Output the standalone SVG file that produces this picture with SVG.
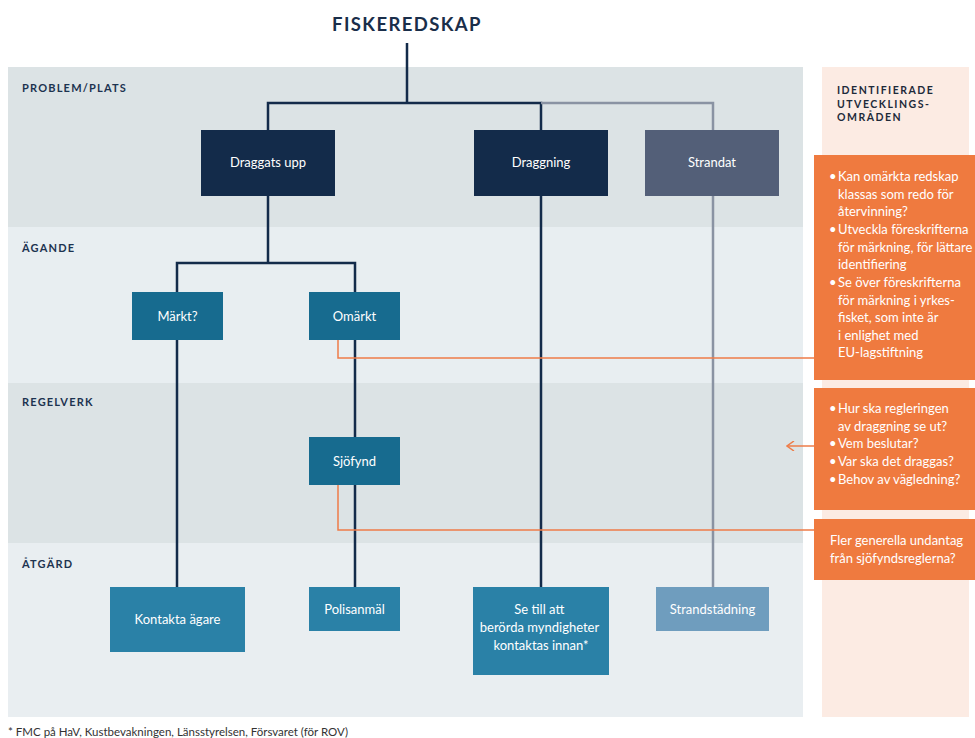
<svg xmlns="http://www.w3.org/2000/svg" width="975" height="738" viewBox="0 0 975 738">
  <style>
    .band-label { font-family: "Lato", "Liberation Sans", sans-serif; font-weight: 700; font-size: 11px; letter-spacing: 1.2px; fill: #1d3350; }
    .node-text { font-family: "Lato", "Liberation Sans", sans-serif; font-size: 13px; fill: #ffffff; text-anchor: middle; }
    .note-text { font-family: "Lato", "Liberation Sans", sans-serif; font-size: 13px; fill: #ffffff; }
    .dark { fill: #132b4a; }
    .mid { fill: #176b8f; }
    .light { fill: #2a81a7; }
    .conn { fill: none; stroke: #132b4a; stroke-width: 2.5; }
    .conn-grey { fill: none; stroke: #8a93a3; stroke-width: 2.5; }
    .conn-orange { fill: none; stroke: #ee7c48; stroke-width: 1.5; }
    .note { fill: #ef7a3f; }
  </style>
  <defs>
    <marker id="chev" viewBox="0 0 10 10" refX="9" refY="5" markerWidth="10" markerHeight="10" orient="auto" markerUnits="userSpaceOnUse">
      <path d="M2,0 L9,5 L2,10" fill="none" stroke="#ee7c48" stroke-width="1.5"/>
    </marker>
  </defs>

  <rect width="975" height="738" fill="#ffffff"/>

  <!-- background bands -->
  <g id="bands">
    <rect x="8" y="67" width="795" height="160" fill="#dce3e5"/>
    <rect x="8" y="227" width="795" height="156" fill="#e8eef1"/>
    <rect x="8" y="383" width="795" height="160" fill="#dce3e5"/>
    <rect x="8" y="543" width="795" height="174" fill="#e9eef1"/>
    <text class="band-label" x="22" y="92">PROBLEM/PLATS</text>
    <text class="band-label" x="22" y="252">ÄGANDE</text>
    <text class="band-label" x="22" y="406">REGELVERK</text>
    <text class="band-label" x="22" y="568">ÅTGÄRD</text>
  </g>

  <!-- side column -->
  <g id="side-panel">
    <rect x="822" y="67" width="147" height="650" fill="#fcebe3"/>
    <text font-family="Lato, 'Liberation Sans', sans-serif" font-weight="700" font-size="10.5" letter-spacing="1.5" fill="#1e2a3a">
      <tspan x="837" y="94">IDENTIFIERADE</tspan>
      <tspan x="837" y="107.5">UTVECKLINGS-</tspan>
      <tspan x="837" y="121">OMRÅDEN</tspan>
    </text>
  </g>

  <!-- title -->
  <g id="title">
    <text x="407" y="31" text-anchor="middle" font-family="Lato, 'Liberation Sans', sans-serif" font-weight="700" font-size="18.5" letter-spacing="1.4" fill="#1a2e4a">FISKEREDSKAP</text>
  </g>

  <!-- connectors -->
  <g id="connectors">
    <path class="conn" d="M407,43 V103 M268,130 V103 H541 V130"/>
    <path class="conn-grey" d="M541,103 H713 V130"/>
    <path class="conn" d="M268,196 V263 M177,292 V263 H355 V292"/>
    <path class="conn" d="M177,340 V587"/>
    <path class="conn" d="M355,340 V437 M355,485 V587"/>
    <path class="conn" d="M541,196 V587"/>
    <path class="conn-grey" d="M713,196 V587"/>
    <path class="conn-orange" d="M338,340 V358 H814"/>
    <path class="conn-orange" d="M338,485 V530 H814"/>
    <path class="conn-orange" d="M814,446 H787" marker-end="url(#chev)"/>
  </g>

  <!-- nodes -->
  <g id="draggats-upp">
    <rect class="dark" x="201" y="130" width="134" height="66"/>
    <text class="node-text" x="268" y="167">Draggats upp</text>
  </g>
  <g id="draggning">
    <rect class="dark" x="474" y="130" width="134" height="66"/>
    <text class="node-text" x="541" y="167">Draggning</text>
  </g>
  <g id="strandat">
    <rect x="645" y="130" width="134" height="66" fill="#535f78"/>
    <text class="node-text" x="712" y="167">Strandat</text>
  </g>
  <g id="markt">
    <rect class="mid" x="132" y="292" width="91" height="48"/>
    <text class="node-text" x="177.5" y="321">Märkt?</text>
  </g>
  <g id="omarkt">
    <rect class="mid" x="309" y="292" width="91" height="48"/>
    <text class="node-text" x="354.5" y="321">Omärkt</text>
  </g>
  <g id="sjofynd">
    <rect class="mid" x="309" y="437" width="91" height="48"/>
    <text class="node-text" x="354.5" y="466">Sjöfynd</text>
  </g>
  <g id="kontakta-agare">
    <rect class="light" x="110" y="587" width="135" height="65"/>
    <text class="node-text" x="177.5" y="624">Kontakta ägare</text>
  </g>
  <g id="polisanmal">
    <rect class="light" x="309" y="587" width="91" height="44"/>
    <text class="node-text" x="354.5" y="614">Polisanmäl</text>
  </g>
  <g id="se-till-att">
    <rect class="light" x="473" y="587" width="136" height="88"/>
    <text class="node-text">
      <tspan x="541" y="614">Se till att</tspan>
      <tspan x="541" y="632">berörda myndigheter</tspan>
      <tspan x="541" y="650">kontaktas innan*</tspan>
    </text>
  </g>
  <g id="strandstadning">
    <rect x="656" y="587" width="113" height="44" fill="#6f9dbe"/>
    <text class="node-text" x="712.5" y="614">Strandstädning</text>
  </g>

  <!-- development notes -->
  <g id="note-markning">
    <rect class="note" x="814" y="155" width="161" height="225"/>
    <text class="note-text">
      <tspan x="829" y="181">•</tspan><tspan x="838" y="181">Kan omärkta redskap</tspan>
      <tspan x="838" y="199">klassas som redo för</tspan>
      <tspan x="838" y="216">återvinning?</tspan>
      <tspan x="829" y="234">•</tspan><tspan x="838" y="234">Utveckla föreskrifterna</tspan>
      <tspan x="838" y="252">för märkning, för lättare</tspan>
      <tspan x="838" y="269">identifiering</tspan>
      <tspan x="829" y="287">•</tspan><tspan x="838" y="287">Se över föreskrifterna</tspan>
      <tspan x="838" y="305">för märkning i yrkes-</tspan>
      <tspan x="838" y="322">fisket, som inte är</tspan>
      <tspan x="838" y="340">i enlighet med</tspan>
      <tspan x="838" y="357">EU-lagstiftning</tspan>
    </text>
  </g>
  <g id="note-draggning">
    <rect class="note" x="814" y="388" width="161" height="122"/>
    <text class="note-text">
      <tspan x="829" y="413">•</tspan><tspan x="838" y="413">Hur ska regleringen</tspan>
      <tspan x="838" y="431">av draggning se ut?</tspan>
      <tspan x="829" y="448">•</tspan><tspan x="838" y="448">Vem beslutar?</tspan>
      <tspan x="829" y="466">•</tspan><tspan x="838" y="466">Var ska det draggas?</tspan>
      <tspan x="829" y="484">•</tspan><tspan x="838" y="484">Behov av vägledning?</tspan>
    </text>
  </g>
  <g id="note-sjofynd">
    <rect class="note" x="814" y="519" width="161" height="61"/>
    <text class="note-text">
      <tspan x="830" y="545">Fler generella undantag</tspan>
      <tspan x="830" y="563">från sjöfyndsreglerna?</tspan>
    </text>
  </g>

  <!-- footnote -->
  <text x="8" y="736" font-family="Lato, 'Liberation Sans', sans-serif" font-size="11.5" fill="#333333">* FMC på HaV, Kustbevakningen, Länsstyrelsen, Försvaret (för ROV)</text>
</svg>
